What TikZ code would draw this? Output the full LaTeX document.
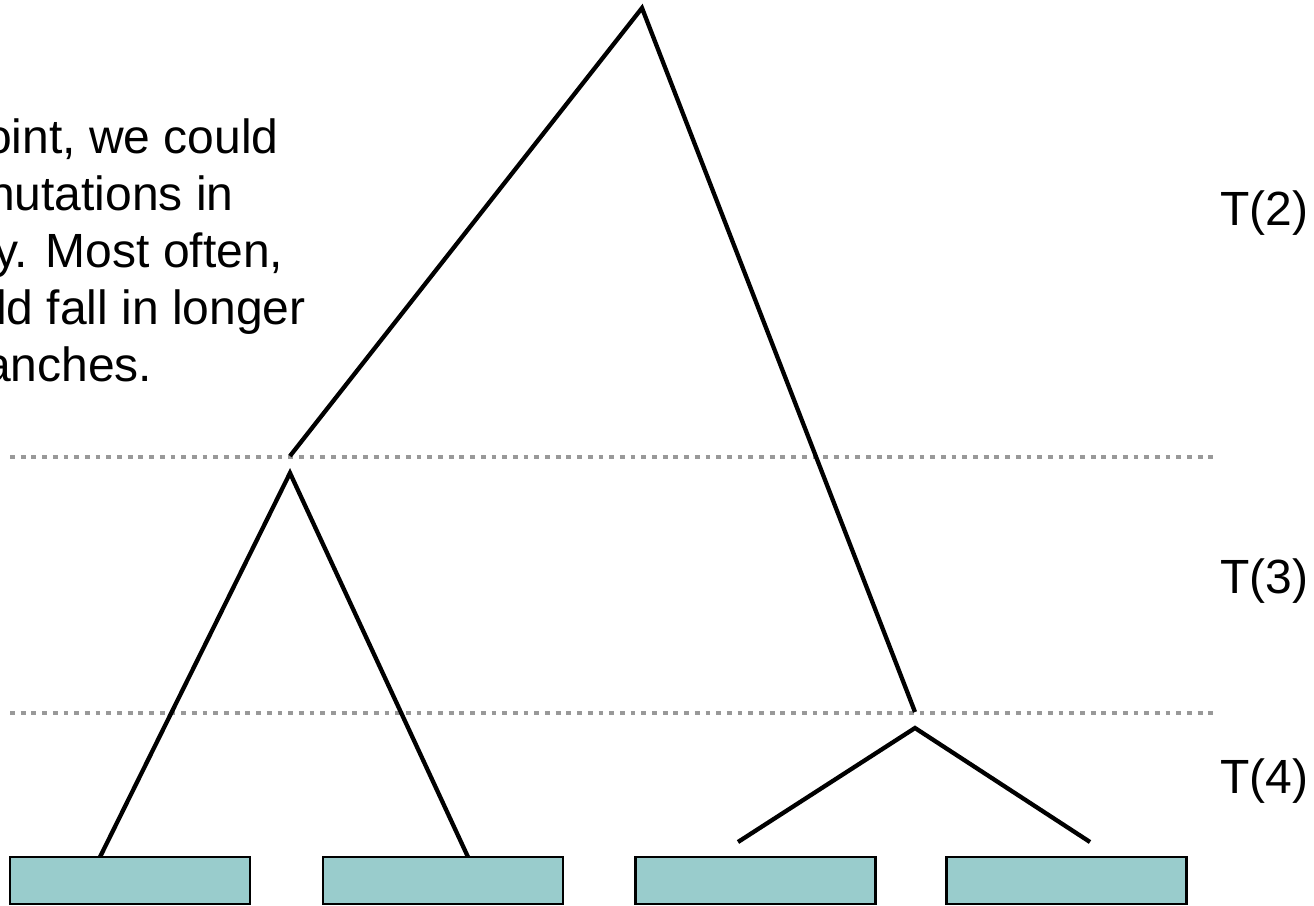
\documentclass[tikz,border=0pt]{standalone}
\usepackage{fontspec}
\setmainfont{Liberation Sans}
\definecolor{leaffill}{RGB}{153,204,204}
\definecolor{levelgray}{RGB}{153,153,153}
\tikzset{
  branch/.style={line width=4.3pt, black},
  leafbox/.style={draw, line width=2.5pt, fill=leaffill, minimum width=240pt, minimum height=47pt, inner sep=0pt},
  levelline/.style={levelgray, line width=4.8pt, dash pattern=on 4.8pt off 5.9pt},
  levellabel/.style={anchor=base west, inner sep=0pt},
}
\begin{document}
\begin{tikzpicture}[x=1pt, y=-1pt, every node/.style={font=\fontsize{48}{57}\selectfont}]
\useasboundingbox (0,0) rectangle (1314,905);
% Text
\node[anchor=north west, align=left, inner sep=0pt] (note) at (-16,119)
  {\hspace*{1pt}oint, we could\\\hspace*{4pt}nutations in\\\hspace*{10pt}y. Most often,\\\hspace*{12pt}ld fall in longer\\anches.};
% Levels
\draw[levelline] (10,457) -- (1218,457);
\draw[levelline] (10,713) -- (1218,713);
\node[levellabel] (t2) at (1220,225) {T(2)};
\node[levellabel] (t3) at (1220,593) {T(3)};
\node[levellabel] (t4) at (1220,793) {T(4)};
% Leaves
\node[leafbox] (leaf1) at (130,880.5) {};
\node[leafbox] (leaf2) at (443,880.5) {};
\node[leafbox] (leaf3) at (755.5,880.5) {};
\node[leafbox] (leaf4) at (1066.5,880.5) {};
% Tree
\coordinate (root) at (642,8);
\coordinate (rootL) at (290,456);
\coordinate (rootR) at (915,712);
\coordinate (subA) at (290,473);
\coordinate (subB) at (915,728);
\coordinate (a1) at (100,857);
\coordinate (a2) at (468,857);
\coordinate (b1) at (738,842);
\coordinate (b2) at (1090,842);
\draw[branch] (rootL) -- (root) -- (rootR);
\draw[branch] (a1) -- (subA) -- (a2);
\draw[branch] (b1) -- (subB) -- (b2);
\end{tikzpicture}
\end{document}
